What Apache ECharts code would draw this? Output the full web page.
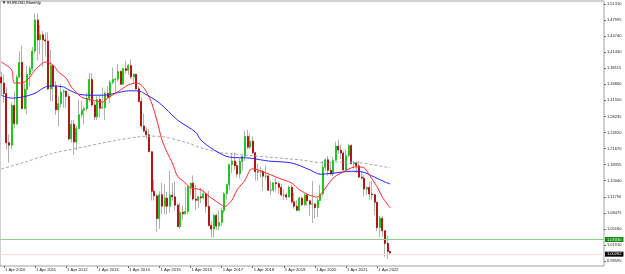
<!DOCTYPE html>
<html>
<head>
<meta charset="utf-8">
<title>EURUSD,Monthly</title>
<script src="https://cdn.jsdelivr.net/npm/echarts@6/dist/echarts.min.js"></script>
<style>
html, body { margin: 0; padding: 0; background: #fff; }
#chart { width: 625px; height: 274px; }
</style>
</head>
<body>
<div id="chart"></div>
<script>
// monthly candles from Mar 2010 to Sep 2022, one line per year
let firstMonth = [2010, 3];
let openPrices = [
    1.3630, 1.3510, 1.3295, 1.2285, 1.2235, 1.3050, 1.2675, 1.3630, 1.3935, 1.2985,
    1.3380, 1.3690, 1.3805, 1.4165, 1.4805, 1.4395, 1.4500, 1.4395, 1.4370, 1.3390, 1.3865, 1.3445,
    1.2960, 1.3085, 1.3325, 1.3340, 1.3235, 1.2365, 1.2665, 1.2300, 1.2575, 1.2860, 1.2955, 1.2985,
    1.3195, 1.3580, 1.3060, 1.2815, 1.3170, 1.2995, 1.3010, 1.3300, 1.3220, 1.3525, 1.3580, 1.3590,
    1.3745, 1.3485, 1.3805, 1.3770, 1.3870, 1.3635, 1.3690, 1.3390, 1.3130, 1.2630, 1.2525, 1.2450,
    1.2100, 1.1290, 1.1195, 1.0730, 1.1220, 1.0985, 1.1150, 1.0985, 1.1210, 1.1175, 1.1005, 1.0565,
    1.0860, 1.0830, 1.0875, 1.1380, 1.1455, 1.1130, 1.1105, 1.1175, 1.1155, 1.1240, 1.0980, 1.0590,
    1.0515, 1.0795, 1.0575, 1.0650, 1.0895, 1.1240, 1.1425, 1.1840, 1.1910, 1.1815, 1.1645, 1.1905,
    1.2005, 1.2415, 1.2195, 1.2320, 1.2080, 1.1690, 1.1685, 1.1690, 1.1600, 1.1605, 1.1310, 1.1315,
    1.1465, 1.1445, 1.1370, 1.1215, 1.1215, 1.1170, 1.1370, 1.1075, 1.0985, 1.0900, 1.1150, 1.1015,
    1.1215, 1.1095, 1.1025, 1.1030, 1.0955, 1.1100, 1.1235, 1.1780, 1.1935, 1.1720, 1.1645, 1.1925,
    1.2215, 1.2135, 1.2075, 1.1730, 1.2020, 1.2225, 1.1855, 1.1870, 1.1810, 1.1580, 1.1560, 1.1335,
    1.1370, 1.1235, 1.1220, 1.1065, 1.0545, 1.0735, 1.0480, 1.0220, 1.0055
];
let highPrices = [
    1.3740, 1.3690, 1.3425, 1.2455, 1.3110, 1.3335, 1.3680, 1.4160, 1.4280, 1.3500,
    1.3860, 1.3860, 1.4250, 1.4940, 1.4940, 1.4700, 1.4580, 1.4550, 1.4550, 1.4190, 1.3870, 1.3550,
    1.3230, 1.3490, 1.3385, 1.3345, 1.3285, 1.2750, 1.2750, 1.2640, 1.3170, 1.3140, 1.3030, 1.3310,
    1.3710, 1.3710, 1.3120, 1.3240, 1.3240, 1.3420, 1.3345, 1.3450, 1.3570, 1.3830, 1.3620, 1.3895,
    1.3775, 1.3825, 1.3965, 1.3905, 1.3995, 1.3700, 1.3700, 1.3445, 1.3220, 1.2885, 1.2600, 1.2570,
    1.2110, 1.1535, 1.1240, 1.1290, 1.1465, 1.1435, 1.1280, 1.1715, 1.1460, 1.1495, 1.1050, 1.1060,
    1.0990, 1.1375, 1.1410, 1.1465, 1.1615, 1.1425, 1.1185, 1.1365, 1.1330, 1.1255, 1.1300, 1.0675,
    1.0830, 1.0830, 1.0905, 1.0950, 1.1270, 1.1445, 1.1850, 1.2070, 1.2090, 1.1880, 1.1960, 1.2025,
    1.2535, 1.2555, 1.2475, 1.2415, 1.2095, 1.1850, 1.1790, 1.1735, 1.1815, 1.1625, 1.1500, 1.1470,
    1.1570, 1.1490, 1.1450, 1.1325, 1.1265, 1.1410, 1.1415, 1.1250, 1.1110, 1.1180, 1.1180, 1.1240,
    1.1240, 1.1100, 1.1500, 1.1040, 1.1150, 1.1420, 1.1910, 1.1965, 1.2010, 1.1880, 1.2000, 1.2310,
    1.2350, 1.2245, 1.2115, 1.2150, 1.2265, 1.2255, 1.1910, 1.1900, 1.1910, 1.1690, 1.1615, 1.1385,
    1.1485, 1.1495, 1.1235, 1.1075, 1.0785, 1.0775, 1.0485, 1.0370, 1.0080
];
let lowPrices = [
    1.3270, 1.3115, 1.2143, 1.1876, 1.2150, 1.2590, 1.2645, 1.3630, 1.2970, 1.2970,
    1.2870, 1.3440, 1.3750, 1.4100, 1.3970, 1.4100, 1.3840, 1.4050, 1.3360, 1.3140, 1.3140, 1.2860,
    1.2620, 1.3000, 1.3000, 1.3000, 1.2330, 1.2290, 1.2040, 1.2130, 1.2560, 1.2800, 1.2660, 1.2930,
    1.3120, 1.3020, 1.2750, 1.2750, 1.2795, 1.2990, 1.2755, 1.3180, 1.3100, 1.3480, 1.3290, 1.3540,
    1.3480, 1.3475, 1.3705, 1.3675, 1.3590, 1.3500, 1.3375, 1.3110, 1.2570, 1.2500, 1.2360, 1.2095,
    1.1100, 1.1100, 1.0460, 1.0520, 1.0820, 1.0820, 1.0810, 1.0850, 1.1100, 1.0895, 1.0560, 1.0520,
    1.0710, 1.0810, 1.0820, 1.1215, 1.1100, 1.0910, 1.0950, 1.1045, 1.1120, 1.0850, 1.0570, 1.0340,
    1.0340, 1.0495, 1.0490, 1.0570, 1.0840, 1.1120, 1.1310, 1.1660, 1.1720, 1.1575, 1.1555, 1.1720,
    1.1915, 1.2155, 1.2155, 1.2055, 1.1510, 1.1510, 1.1575, 1.1300, 1.1525, 1.1300, 1.1215, 1.1270,
    1.1290, 1.1235, 1.1175, 1.1110, 1.1105, 1.1165, 1.1030, 1.0925, 1.0880, 1.0880, 1.0990, 1.0980,
    1.0990, 1.0780, 1.0640, 1.0730, 1.0760, 1.1100, 1.1185, 1.1710, 1.1610, 1.1620, 1.1600, 1.1920,
    1.2055, 1.1950, 1.1705, 1.1705, 1.1985, 1.1845, 1.1750, 1.1665, 1.1565, 1.1525, 1.1185, 1.1220,
    1.1120, 1.1105, 1.0805, 1.0470, 1.0350, 1.0360, 0.9950, 0.9900, 0.9990
];
let closePrices = [
    1.3510, 1.3295, 1.2285, 1.2235, 1.3050, 1.2675, 1.3630, 1.3935, 1.2985, 1.3380,
    1.3690, 1.3805, 1.4165, 1.4805, 1.4395, 1.4500, 1.4395, 1.4370, 1.3390, 1.3865, 1.3445, 1.2960,
    1.3085, 1.3325, 1.3340, 1.3235, 1.2365, 1.2665, 1.2300, 1.2575, 1.2860, 1.2955, 1.2985, 1.3195,
    1.3580, 1.3060, 1.2815, 1.3170, 1.2995, 1.3010, 1.3300, 1.3220, 1.3525, 1.3580, 1.3590, 1.3745,
    1.3485, 1.3805, 1.3770, 1.3870, 1.3635, 1.3690, 1.3390, 1.3130, 1.2630, 1.2525, 1.2450, 1.2100,
    1.1290, 1.1195, 1.0730, 1.1220, 1.0985, 1.1150, 1.0985, 1.1210, 1.1175, 1.1005, 1.0565, 1.0860,
    1.0830, 1.0875, 1.1380, 1.1455, 1.1130, 1.1105, 1.1175, 1.1155, 1.1240, 1.0980, 1.0590, 1.0515,
    1.0795, 1.0575, 1.0650, 1.0895, 1.1240, 1.1425, 1.1840, 1.1910, 1.1815, 1.1645, 1.1905, 1.2005,
    1.2415, 1.2195, 1.2320, 1.2080, 1.1690, 1.1685, 1.1690, 1.1600, 1.1605, 1.1310, 1.1315, 1.1465,
    1.1445, 1.1370, 1.1215, 1.1215, 1.1170, 1.1370, 1.1075, 1.0985, 1.0900, 1.1150, 1.1015, 1.1215,
    1.1095, 1.1025, 1.1030, 1.0955, 1.1100, 1.1235, 1.1780, 1.1935, 1.1720, 1.1645, 1.1925, 1.2215,
    1.2135, 1.2075, 1.1730, 1.2020, 1.2225, 1.1855, 1.1870, 1.1810, 1.1580, 1.1560, 1.1335, 1.1370,
    1.1235, 1.1220, 1.1065, 1.0545, 1.0735, 1.0480, 1.0220, 1.0055, 1.0026
];

// moving averages [month, value]
let redMa = [
    ['2010.03', 1.394], ['2010.07', 1.378], ['2010.08', 1.351], ['2010.11', 1.351], ['2011.02', 1.363],
    ['2011.04', 1.378], ['2011.07', 1.392], ['2011.08', 1.394], ['2011.11', 1.388], ['2012.01', 1.374],
    ['2012.04', 1.361], ['2012.06', 1.343], ['2012.10', 1.322], ['2013.02', 1.316], ['2013.06', 1.312],
    ['2013.08', 1.320], ['2013.12', 1.333], ['2014.04', 1.347], ['2014.07', 1.351], ['2014.09', 1.347],
    ['2014.11', 1.333], ['2015.01', 1.310], ['2015.03', 1.275], ['2015.05', 1.234], ['2015.07', 1.208],
    ['2015.09', 1.187], ['2015.11', 1.160], ['2016.02', 1.146], ['2016.04', 1.136], ['2016.08', 1.132],
    ['2016.12', 1.115], ['2017.04', 1.101], ['2017.05', 1.097], ['2017.08', 1.111], ['2017.10', 1.132],
    ['2018.01', 1.152], ['2018.03', 1.173], ['2018.04', 1.175], ['2018.08', 1.169], ['2019.02', 1.156],
    ['2019.07', 1.146], ['2019.10', 1.132], ['2020.02', 1.121], ['2020.05', 1.117], ['2020.07', 1.128],
    ['2020.11', 1.156], ['2021.02', 1.166], ['2021.06', 1.177], ['2021.08', 1.179], ['2021.11', 1.177],
    ['2022.01', 1.162], ['2022.04', 1.138], ['2022.06', 1.117], ['2022.09', 1.095]
];
let blueMa = [
    ['2010.03', 1.326], ['2010.07', 1.320], ['2010.11', 1.322], ['2011.04', 1.330], ['2011.08', 1.343],
    ['2011.11', 1.345], ['2012.03', 1.343], ['2012.05', 1.337], ['2012.09', 1.328], ['2013.01', 1.326],
    ['2013.06', 1.326], ['2013.11', 1.330], ['2014.04', 1.335], ['2014.08', 1.335], ['2014.10', 1.330],
    ['2015.04', 1.310], ['2015.11', 1.275], ['2016.06', 1.250], ['2016.08', 1.234], ['2017.01', 1.214],
    ['2017.07', 1.199], ['2018.03', 1.197], ['2018.10', 1.191], ['2019.07', 1.187], ['2020.02', 1.173],
    ['2020.06', 1.164], ['2020.11', 1.166], ['2021.02', 1.168], ['2021.06', 1.170], ['2021.10', 1.169],
    ['2022.03', 1.158], ['2022.07', 1.148], ['2022.09', 1.144]
];
let grayMa = [
    ['2010.03', 1.175], ['2010.11', 1.187], ['2011.11', 1.207], ['2012.05', 1.214], ['2012.11', 1.220],
    ['2013.06', 1.228], ['2013.12', 1.234], ['2014.07', 1.240], ['2014.12', 1.242], ['2015.05', 1.241],
    ['2016.03', 1.228], ['2016.08', 1.218], ['2017.04', 1.208], ['2018.02', 1.203], ['2018.10', 1.199],
    ['2019.11', 1.193], ['2020.06', 1.188], ['2021.03', 1.189], ['2021.10', 1.187], ['2022.09', 1.177]
];

let priceLabels = ['1.51310', '1.47995', '1.44740', '1.41430', '1.38115', '1.34800', '1.31550', '1.28235',
    '1.24920', '1.21670', '1.18355', '1.15040', '1.11790', '1.08475', '1.05160', '1.01910', '0.98595'];
let xTickLabels = ['1 Apr 2010', '1 Apr 2011', '1 Apr 2012', '1 Apr 2013', '1 Apr 2014', '1 Apr 2015',
    '1 Apr 2016', '1 Apr 2017', '1 Apr 2018', '1 Apr 2019', '1 Apr 2020', '1 Apr 2021', '1 Apr 2022'];
let supportLevel = 1.03330;
let lastPrice = 1.00262;
let emptyMonthsRight = 82;

let months = [];
for (let i = 0; i < openPrices.length + emptyMonthsRight; i++) {
    let m = firstMonth[1] - 1 + i;
    let y = firstMonth[0] + Math.floor(m / 12);
    months.push(y + '.' + String(m % 12 + 1).padStart(2, '0'));
}
let aprilLabel = {};
xTickLabels.forEach(function (t) {
    aprilLabel[t.slice(-4) + '.04'] = t;
});

let wickData = openPrices.map(function (o, i) {
    return [o, closePrices[i], lowPrices[i], highPrices[i]];
});
let bodyData = openPrices.map(function (o, i) {
    let c = closePrices[i];
    return [o, c, Math.min(o, c), Math.max(o, c)];
});

let font = 'Liberation Sans';
let myChart = echarts.init(document.getElementById('chart'));
myChart.setOption({
    animation: false,
    backgroundColor: '#fff',
    textStyle: {fontFamily: font},
    title: {
        text: '▼ EURUSD,Monthly',
        left: 2,
        top: 1,
        padding: 0,
        textStyle: {fontSize: 4.2, fontWeight: 'normal', color: '#000', fontFamily: font}
    },
    grid: [
        {left: -2.6, right: 21, top: 1, bottom: 8, show: true, borderColor: '#a0a0a0', borderWidth: 1, backgroundColor: '#fff'},
        {left: -2.6, right: 21, top: 4, bottom: 13}
    ],
    xAxis: [
        {
            type: 'category',
            data: months,
            boundaryGap: true,
            axisLine: {show: false},
            axisTick: {
                show: true,
                alignWithLabel: true,
                length: 2,
                interval: function (idx, v) { return !!aprilLabel[v]; },
                lineStyle: {color: '#707070'}
            },
            axisLabel: {
                interval: function (idx, v) { return !!aprilLabel[v]; },
                formatter: function (v) { return aprilLabel[v] || ''; },
                align: 'left',
                margin: 2,
                padding: [0, 0, 0, 1],
                fontSize: 4.2,
                color: '#222',
                fontFamily: font
            },
            splitLine: {show: false}
        },
        {type: 'category', gridIndex: 1, show: false, data: ['a']}
    ],
    yAxis: [
        {
            type: 'value',
            min: 0.97569,
            max: 1.51925,
            show: false,
            splitLine: {show: false}
        },
        {
            type: 'category',
            gridIndex: 1,
            position: 'right',
            inverse: true,
            boundaryGap: false,
            data: priceLabels,
            axisLine: {show: false},
            axisTick: {show: true, length: 2, interval: 0, lineStyle: {color: '#707070'}},
            axisLabel: {interval: 0, margin: 3, fontSize: 4, color: '#222', fontFamily: font},
            splitLine: {show: false}
        }
    ],
    series: [
        {
            type: 'candlestick',
            name: 'wicks',
            data: wickData,
            barWidth: 1,
            silent: true,
            itemStyle: {color: '#b0b0b0', color0: '#b0b0b0', borderColor: '#b0b0b0', borderColor0: '#b0b0b0', borderWidth: 1}
        },
        {
            type: 'candlestick',
            name: 'EURUSD',
            data: bodyData,
            barWidth: 1.5,
            silent: true,
            itemStyle: {color: '#1ec81e', color0: '#b41414', borderColor: '#1ec81e', borderColor0: '#b41414', borderWidth: 1},
            markLine: {
                symbol: 'none',
                silent: true,
                animation: false,
                data: [
                    {
                        yAxis: supportLevel,
                        lineStyle: {color: '#8ed08e', width: 1, type: 'solid'},
                        label: {
                            show: true, position: 'end', distance: 1,
                            formatter: supportLevel.toFixed(5),
                            backgroundColor: '#0d8c0d', color: '#fff',
                            fontSize: 4, padding: [1, 2, 0, 2], fontFamily: font
                        }
                    },
                    {
                        yAxis: lastPrice,
                        lineStyle: {color: '#ffdcdc', width: 1, type: 'solid'},
                        label: {
                            show: true, position: 'end', distance: 1,
                            formatter: lastPrice.toFixed(5),
                            backgroundColor: '#000', color: '#fff',
                            fontSize: 4, padding: [1, 2, 0, 2], fontFamily: font
                        }
                    }
                ]
            }
        },
        {
            type: 'line', name: 'grayMa', data: grayMa, symbol: 'none', smooth: 0.3, silent: true,
            lineStyle: {color: '#a8a8a8', width: 1, type: [3, 2]}
        },
        {
            type: 'line', name: 'blueMa', data: blueMa, symbol: 'none', smooth: 0.3, silent: true,
            lineStyle: {color: '#2424ff', width: 1}
        },
        {
            type: 'line', name: 'redMa', data: redMa, symbol: 'none', smooth: 0.3, silent: true,
            lineStyle: {color: '#ff2a2a', width: 1}
        }
    ]
});
</script>
</body>
</html>
